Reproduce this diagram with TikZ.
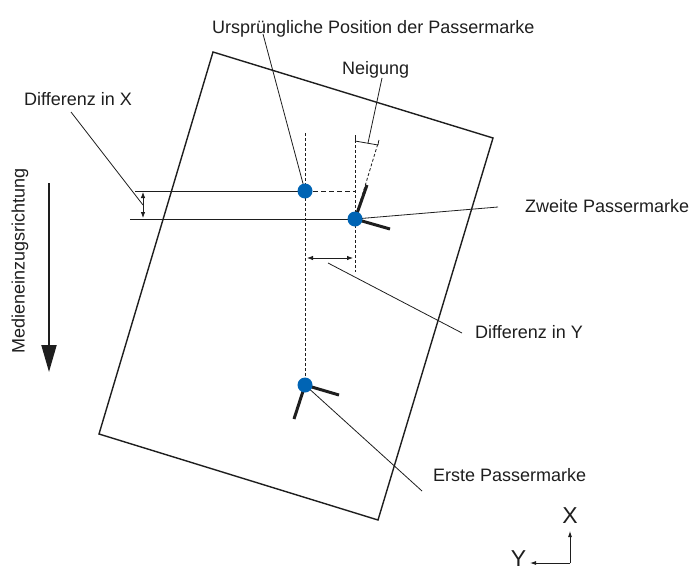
\documentclass[tikz,border=0pt]{standalone}
\usepackage{fontspec}
\setmainfont{Liberation Sans}
\usetikzlibrary{arrows.meta}
\definecolor{markblue}{RGB}{0,100,180}
\definecolor{ink}{RGB}{30,30,30}
\begin{document}
\begin{tikzpicture}[x=1pt,y=-1pt,
  lbl/.style={font=\fontsize{18}{21}\selectfont, text=ink, inner sep=0pt},
  axlbl/.style={font=\fontsize{23}{26}\selectfont, text=ink, inner sep=0pt},
  frame/.style={draw=ink, line width=1.4pt},
  thinline/.style={draw=ink, line width=0.8pt},
  guide/.style={draw=ink, line width=0.8pt, dash pattern=on 3pt off 2pt},
  gapguide/.style={draw=ink, line width=1pt, dash pattern=on 5pt off 3pt},
  markarm/.style={draw=ink, line width=3pt},
  dot/.style={circle, fill=markblue, minimum size=15pt, inner sep=0pt},
  dimline/.style={draw=ink, line width=0.8pt, {Latex[length=6pt,width=4.5pt]}-{Latex[length=6pt,width=4.5pt]}},
  axisline/.style={draw=ink, line width=0.8pt, -{Latex[length=6pt,width=4pt]}}
]
\useasboundingbox (0,0) rectangle (698,570);

% sheet
\draw[frame] (213,52) -- (493,138) -- (378,520) -- (99,434) -- cycle;

% marks positions
\coordinate (orig) at (305,191);
\coordinate (second) at (355,219);
\coordinate (first) at (305,385);

% dashed guide lines
\draw[guide] (305,133) -- (first);
\draw[guide] (355,135) -- (355,272);
\draw[guide] (second) -- (379,140);
\draw[gapguide] (orig) -- (355,191);

% tilt bracket
\draw[thinline] (355,141) -- (378,145);
\draw[thinline] (355,141) -- (355,138);
\draw[thinline] (378,145) -- (378.5,142);

% reference lines
\draw[thinline] (135,191) -- (orig);
\draw[thinline] (130,219) -- (second);

% dimension arrows
\draw[dimline] (143,192) -- (143,218);
\draw[dimline] (307,258) -- (353,258);

% mark arms
\draw[markarm] (second) -- (367,185);
\draw[markarm] (second) -- (390,229);
\draw[markarm] (first) -- (339,395);
\draw[markarm] (first) -- (294,419);

% labels
\node[lbl, anchor=base west] (tOrig) at (212,33) {Ursprüngliche Position der Passermarke};
\node[lbl, anchor=base west] (tNeig) at (342,74) {Neigung};
\node[lbl, anchor=base west] (tDX) at (24,105) {Differenz in X};
\node[lbl, anchor=base west] (tZw) at (525,212) {Zweite Passermarke};
\node[lbl, anchor=base west] (tDY) at (475,338) {Differenz in Y};
\node[lbl, anchor=base west] (tErste) at (433,481) {Erste Passermarke};
\node[lbl, rotate=90] (tMed) at (20,261) {Medieneinzugsrichtung};

% leaders
\coordinate (lOrig) at (263,34);
\coordinate (lNeig) at (382,78);
\coordinate (lNeigE) at (368,143);
\coordinate (lDX) at (71,112);
\coordinate (lDXE) at (143,205);
\coordinate (lZw) at (498,207);
\coordinate (lDY) at (462,333);
\coordinate (lDYs) at (328,263);
\coordinate (lErste) at (422,491);
\draw[thinline] (lOrig) -- (orig);
\draw[thinline] (lNeig) -- (lNeigE);
\draw[thinline] (lDX) -- (lDXE);
\draw[thinline] (second) -- (lZw);
\draw[thinline] (lDYs) -- (lDY);
\draw[thinline] (first) -- (lErste);

% dots
\node[dot] (dOrig) at (orig) {};
\node[dot] (dSecond) at (second) {};
\node[dot] (dFirst) at (first) {};

% feed direction arrow
\coordinate (fa) at (49,183);
\coordinate (fb) at (49,372);
\draw[draw=ink, line width=2pt, -{Triangle[length=27pt,width=15pt]}] (fa) -- (fb);

% axes
\coordinate (ax0) at (570,563);
\coordinate (axX) at (570,531);
\coordinate (axY) at (530,563);
\draw[axisline] (ax0) -- (axX);
\draw[axisline] (ax0) -- (axY);
\node[axlbl, anchor=base] (lX) at (570,523.5) {X};
\node[axlbl, anchor=base] (lY) at (518.5,566) {Y};
\end{tikzpicture}
\end{document}
